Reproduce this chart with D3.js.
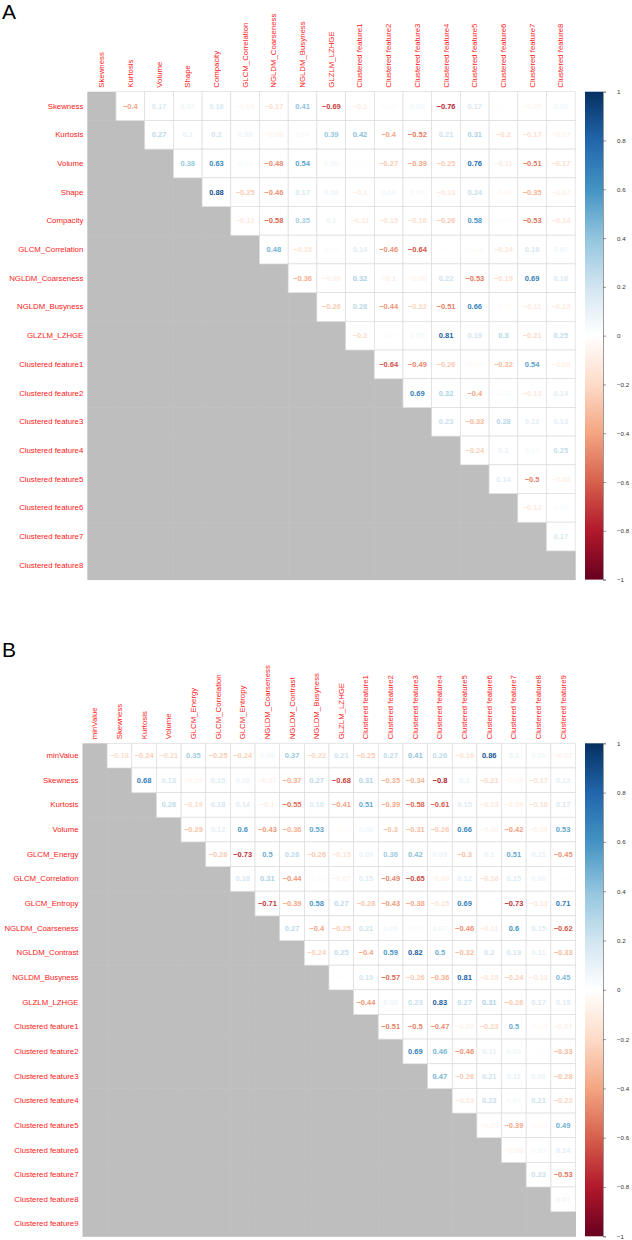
<!DOCTYPE html>
<html><head><meta charset="utf-8">
<script src="https://cdn.jsdelivr.net/npm/d3@7"></script>
<style>body{margin:0;background:#fff}svg{display:block}</style>
</head><body>
<svg id="c" width="632" height="1240"></svg>
<script>
// ---------- DATA ----------
const varsA = ["Skewness","Kurtosis","Volume","Shape","Compacity","GLCM_Correlation","NGLDM_Coarseness","NGLDM_Busyness","GLZLM_LZHGE","Clustered feature1","Clustered feature2","Clustered feature3","Clustered feature4","Clustered feature5","Clustered feature6","Clustered feature7","Clustered feature8"];
// upper triangle, row i holds correlations with columns j>i
const corrA = [
  [-0.4,0.17,0.07,0.16,-0.05,-0.17,0.41,-0.69,-0.1,0.02,0.06,-0.76,0.17,0.01,-0.05,0.06],
  [0.27,0.1,0.2,0.08,-0.06,0.04,0.39,0.42,-0.4,-0.52,0.21,0.31,-0.2,-0.17,-0.07],
  [0.38,0.63,0.03,-0.48,0.54,0.06,0.01,-0.27,-0.39,-0.25,0.76,-0.11,-0.51,-0.17],
  [0.88,-0.25,-0.46,0.17,0.08,-0.1,0.06,0.04,-0.13,0.24,-0.04,-0.35,-0.07],
  [-0.12,-0.58,0.35,0.1,-0.11,-0.15,-0.18,-0.26,0.58,0.02,-0.53,-0.14],
  [0.48,-0.15,0.02,0.14,-0.46,-0.64,0.01,-0.03,-0.14,0.18,0.07],
  [-0.36,-0.09,0.32,-0.1,-0.06,0.22,-0.53,-0.19,0.69,0.16],
  [-0.26,0.28,-0.44,-0.22,-0.51,0.66,-0.02,-0.11,-0.12],
  [-0.2,0.02,0.05,0.81,0.19,0.3,-0.21,0.25],
  [-0.64,-0.49,-0.26,-0.03,-0.32,0.54,-0.08],
  [0.69,0.32,-0.4,0.03,-0.13,0.14],
  [0.23,-0.33,0.28,0.12,0.13],
  [-0.24,0.1,0.04,0.25],
  [0.14,-0.5,-0.08],
  [-0.12,0.03],
  [0.17],
  []
];
const varsB = ["minValue","Skewness","Kurtosis","Volume","GLCM_Energy","GLCM_Correlation","GLCM_Entropy","NGLDM_Coarseness","NGLDM_Contrast","NGLDM_Busyness","GLZLM_LZHGE","Clustered feature1","Clustered feature2","Clustered feature3","Clustered feature4","Clustered feature5","Clustered feature6","Clustered feature7","Clustered feature8","Clustered feature9"];
const corrB = [
  [-0.18,-0.24,-0.21,0.35,-0.25,-0.24,0.06,0.37,-0.22,0.21,-0.25,0.27,0.41,0.26,-0.16,0.86,0.1,0.06,-0.07],
  [0.68,0.18,-0.05,0.15,0.08,-0.07,-0.37,0.27,-0.68,0.31,-0.35,-0.34,-0.8,0.1,-0.21,-0.05,-0.17,0.12],
  [0.26,-0.19,0.18,0.14,-0.1,-0.55,0.16,-0.41,0.51,-0.39,-0.58,-0.61,0.15,-0.13,-0.09,-0.16,0.17],
  [-0.29,0.12,0.6,-0.43,-0.36,0.53,-0.02,0.06,-0.3,-0.31,-0.26,0.66,-0.06,-0.42,-0.08,0.53],
  [-0.26,-0.73,0.5,0.26,-0.26,-0.15,0.09,0.36,0.42,0.09,-0.3,0.1,0.51,0.11,-0.45],
  [0.18,0.31,-0.44,-0.03,-0.07,0.15,-0.49,-0.65,-0.09,0.12,-0.16,0.15,0.08,0.01],
  [-0.71,-0.39,0.58,0.27,-0.28,-0.43,-0.38,-0.15,0.69,0.01,-0.73,-0.13,0.71],
  [0.27,-0.4,-0.25,0.21,0.06,0.03,0.07,-0.46,-0.11,0.6,0.15,-0.62],
  [-0.24,0.25,-0.4,0.59,0.82,0.5,-0.32,0.2,0.19,0.11,-0.33],
  [0.01,0.19,-0.57,-0.26,-0.36,0.81,-0.15,-0.24,-0.13,0.45],
  [-0.44,0.08,0.23,0.83,0.27,0.31,-0.26,0.17,0.15],
  [-0.51,-0.5,-0.47,-0.06,-0.23,0.5,-0.03,-0.07],
  [0.69,0.46,-0.46,0.11,0.06,0.01,-0.33],
  [0.47,-0.26,0.21,0.11,0.09,-0.28],
  [-0.13,0.23,0.04,0.21,-0.22],
  [-0.05,-0.39,-0.03,0.49],
  [-0.06,0.05,0.14],
  [0.23,-0.53],
  [0.07],
  []
];
const paletteRdBu = ["#67001F","#B2182B","#D6604D","#F4A582","#FDDBC7","#FFFFFF","#D1E5F0","#92C5DE","#4393C3","#2166AC","#053061"];
const barTicks = [1,0.8,0.6,0.4,0.2,0,-0.2,-0.4,-0.6,-0.8,-1];
const panelLetters = ["A","B"];

// ---------- DRAW ----------
const svg = d3.select("#c");
const color = d3.scaleLinear()
  .domain(paletteRdBu.map((_, i) => -1 + i * 0.2))
  .range(paletteRdBu).interpolate(d3.interpolateRgb);
const fmt = v => (v < 0 ? "\u2212" : "") + String(Math.abs(v));

const defs = svg.append("defs");
const grad = defs.append("linearGradient").attr("id","rdbu")
  .attr("x1",0).attr("y1",1).attr("x2",0).attr("y2",0);
paletteRdBu.forEach((c,i)=>grad.append("stop").attr("offset", i/(paletteRdBu.length-1)).attr("stop-color", c));

function drawPanel(vars, corr, box, letter, letterY) {
  const g = svg.append("g");
  const x = d3.scaleBand().domain(vars).range([box.left, box.right]);
  const y = d3.scaleBand().domain(vars).range([box.top, box.bottom]);
  const bw = x.bandwidth(), bh = y.bandwidth();

  const cells = [];
  vars.forEach((r, i) => vars.forEach((c, j) => {
    cells.push({r, c, upper: j > i, v: j > i ? corr[i][j - i - 1] : null});
  }));

  // lower triangle (incl. diagonal) gray
  g.append("g").selectAll("rect").data(cells.filter(d => !d.upper)).join("rect")
    .attr("x", d => x(d.c)).attr("y", d => y(d.r))
    .attr("width", bw + 0.5).attr("height", bh + 0.5)
    .attr("fill", "#BEBEBE");

  // upper cells
  const up = cells.filter(d => d.upper);
  g.append("g").selectAll("rect").data(up).join("rect")
    .attr("x", d => x(d.c)).attr("y", d => y(d.r))
    .attr("width", bw).attr("height", bh)
    .attr("fill", "#fff").attr("stroke", "#dcdcdc").attr("stroke-width", 0.7);

  g.append("g").selectAll("text").data(up).join("text")
    .attr("x", d => x(d.c) + bw / 2).attr("y", d => y(d.r) + bh / 2)
    .attr("text-anchor", "middle").attr("dominant-baseline", "central")
    .attr("font-family", "Liberation Sans, Arial, sans-serif")
    .attr("font-size", 7.5).attr("font-weight", "bold")
    .attr("fill", d => color(d.v))
    .text(d => fmt(d.v));

  // row labels
  g.append("g").selectAll("text").data(vars).join("text")
    .attr("x", box.left - 4).attr("y", d => y(d) + bh / 2)
    .attr("text-anchor", "end").attr("dominant-baseline", "central")
    .attr("font-family", "Liberation Sans, Arial, sans-serif")
    .attr("font-size", 7.8).attr("fill", "#ff2020")
    .text(d => d);

  // column labels
  g.append("g").selectAll("text").data(vars).join("text")
    .attr("transform", d => `translate(${x(d) + bw / 2},${box.top - 4}) rotate(-90)`)
    .attr("text-anchor", "start").attr("dominant-baseline", "central")
    .attr("font-family", "Liberation Sans, Arial, sans-serif")
    .attr("font-size", 7.8).attr("fill", "#ff2020")
    .text(d => d);

  // colour bar
  const cb = {x: 585, w: 18};
  g.append("rect").attr("x", cb.x).attr("y", box.top)
    .attr("width", cb.w).attr("height", box.bottom - box.top)
    .attr("fill", "url(#rdbu)");
  const ys = d3.scaleLinear().domain([-1, 1]).range([box.bottom, box.top]);
  const ax = g.append("g").attr("transform", `translate(${cb.x + cb.w},0)`)
    .call(d3.axisRight(ys).tickValues(barTicks).tickSize(3).tickPadding(11)
      .tickFormat(v => v === 0 ? "0" : fmt(+v.toFixed(1))));
  ax.select(".domain").attr("stroke", "#555").attr("stroke-width", 0.6);
  ax.selectAll(".tick line").attr("stroke", "#555").attr("stroke-width", 0.6);
  ax.selectAll(".tick text").attr("font-family", "Liberation Sans, Arial, sans-serif")
    .attr("font-size", 6.2).attr("fill", "#333");

  // panel letter
  svg.append("text").attr("x", 2).attr("y", letterY)
    .attr("font-family", "Liberation Sans, Arial, sans-serif")
    .attr("font-size", 21).attr("fill", "#000").text(letter);
}

drawPanel(varsA, corrA, {left: 87.3, right: 575.2, top: 91.7, bottom: 579.6}, panelLetters[0], 19);
drawPanel(varsB, corrB, {left: 82.5, right: 575.5, top: 743.3, bottom: 1236.3}, panelLetters[1], 657);
</script>
</body></html>
